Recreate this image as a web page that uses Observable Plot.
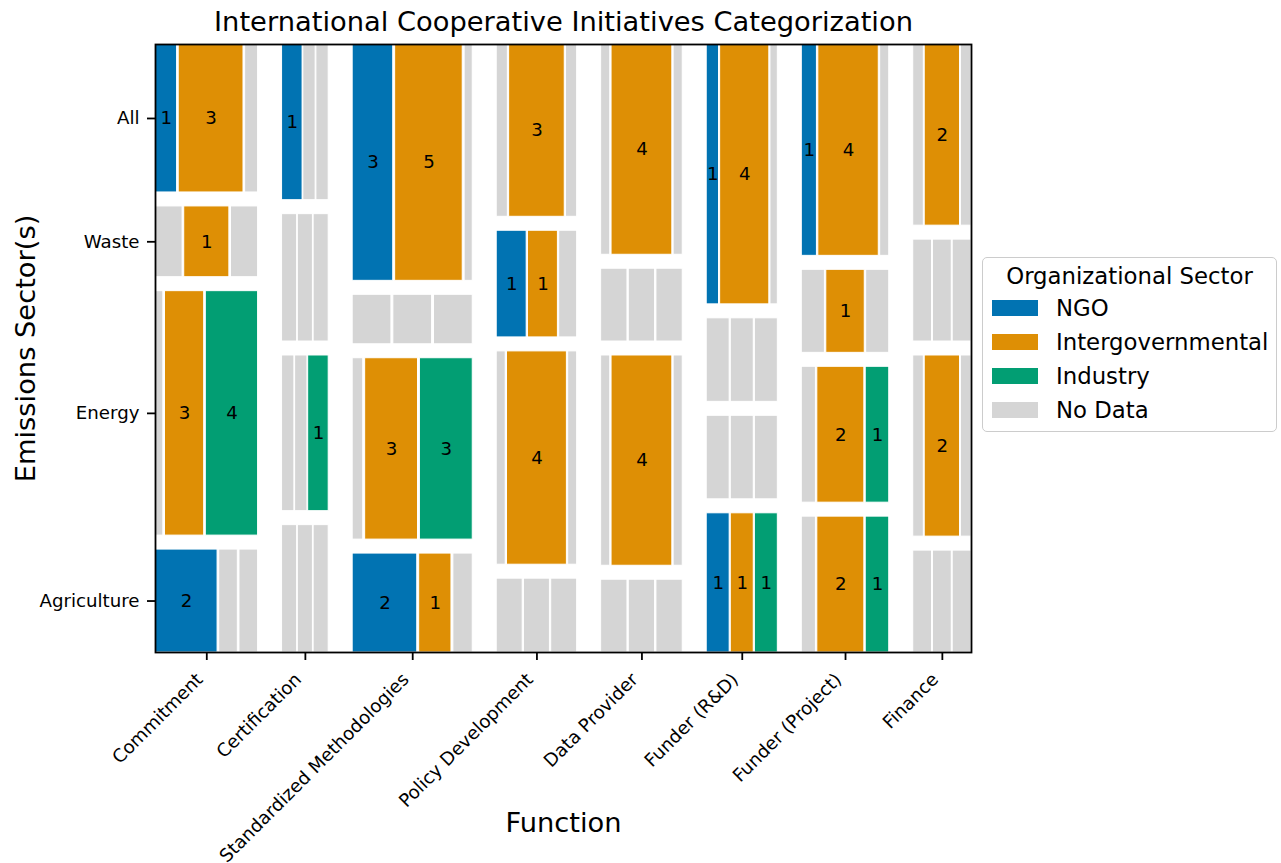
<!DOCTYPE html>
<html>
<head>
<meta charset="utf-8">
<script src="https://cdn.jsdelivr.net/npm/d3@7"></script>
<script src="https://cdn.jsdelivr.net/npm/@observablehq/plot@0.6"></script>
<style>
  body { margin: 0; background: #fff; font-family: "DejaVu Sans", sans-serif; }
  #wrap { position: relative; width: 1281px; height: 863px; }
  #legend { position: absolute; left: 982px; top: 257px; width: 295px; height: 175px; box-sizing: border-box;
    border: 1.6px solid #cccccc; border-radius: 5px; background: #fff; font-size: 22.8px; color: #000; }
  #legend .ttl { position: absolute; left: 0; width: 100%; text-align: center; line-height: 30px; white-space: nowrap; }
  #legend .sw { position: absolute; left: 9px; width: 46px; height: 16px; }
  #legend .lb { position: absolute; left: 73px; line-height: 30px; white-space: nowrap; }
</style>
</head>
<body>
<div id="wrap"></div>
<script>
// ---- Data ----
const functions = ["Commitment", "Certification", "Standardized Methodologies", "Policy Development",
  "Data Provider", "Funder (R&D)", "Funder (Project)", "Finance"];
const sectors = ["All", "Waste", "Energy", "Agriculture"];
const orgs = ["NGO", "Intergovernmental", "Industry"];
const noDataLabel = "No Data";
// counts [function][sector: All, Waste, Energy, Agriculture]
const ngoCounts = [
  [1, 0, 0, 2], [1, 0, 0, 0], [3, 0, 0, 2], [0, 1, 0, 0],
  [0, 0, 0, 0], [1, 0, 0, 1], [1, 0, 0, 0], [0, 0, 0, 0]
];
const igoCounts = [
  [3, 1, 3, 0], [0, 0, 0, 0], [5, 0, 3, 1], [3, 1, 4, 0],
  [4, 0, 4, 0], [4, 0, 0, 1], [4, 1, 2, 2], [2, 0, 2, 0]
];
const industryCounts = [
  [0, 0, 4, 0], [0, 0, 1, 0], [0, 0, 3, 0], [0, 0, 0, 0],
  [0, 0, 0, 0], [0, 0, 0, 1], [0, 0, 1, 1], [0, 0, 0, 0]
];
const noDataWeight = 0.6;
const colors = ["#0173b2", "#de8f05", "#029e73", "#d5d5d5"];

// ---- Mosaic layout (statsmodels-style splitting) ----
const G = 0.037;
const gaps = [G, G / 1.5, G / 2.25];
function split(start, length, weights, gap) {
  const total = d3.sum(weights);
  const ext = 1 + gap * (weights.length - 1);
  let acc = 0;
  return weights.map((w, i) => {
    const s = (acc / total + gap * i) / ext;
    acc += w;
    return [start + s * length, (w / total) / ext * length];
  });
}
const countTables = [ngoCounts, igoCounts, industryCounts];
const weight = c => c > 0 ? c : noDataWeight;
const cellW = (f, s) => countTables.map(t => weight(t[f][s]));
const rowW = f => sectors.map((_, s) => d3.sum(cellW(f, s)));
const colW = functions.map((_, f) => d3.sum(rowW(f)));

const tiles = [];
const colCenters = [];
let rowCenters = [];
const cols = split(0, 1, colW, gaps[0]);
cols.forEach(([cx, cw], f) => {
  colCenters.push(cx + cw / 2);
  const rows = split(0, 1, rowW(f), gaps[1]);
  if (f === 0) rowCenters = rows.map(([ry, rh]) => ry + rh / 2);
  rows.forEach(([ry, rh], s) => {
    const parts = split(cx, cw, cellW(f, s), gaps[2]);
    parts.forEach(([tx, tw], o) => {
      const count = countTables[o][f][s];
      tiles.push({
        func: functions[f], sector: sectors[s],
        org: count > 0 ? orgs[o] : noDataLabel,
        count, x1: tx, x2: tx + tw, y1: ry, y2: ry + rh
      });
    });
  });
});

const W = 1281, H = 863;
const chart = Plot.plot({
  width: W, height: H,
  marginLeft: 155, marginRight: 310, marginTop: 44, marginBottom: 211,
  style: { fontFamily: "DejaVu Sans", fontSize: "18.2px", color: "#000", background: "#fff" },
  x: { domain: [0, 1], axis: null },
  y: { domain: [0, 1], reverse: true, axis: null },
  color: { domain: [...orgs, noDataLabel], range: colors },
  marks: [
    Plot.rect(tiles, { x1: "x1", x2: "x2", y1: "y1", y2: "y2", fill: "org", stroke: "white", strokeWidth: 1 }),
    Plot.text(tiles.filter(d => d.count > 0), {
      x: d => (d.x1 + d.x2) / 2, y: d => (d.y1 + d.y2) / 2, text: d => String(d.count),
      fontSize: 18.2, fill: "#000"
    }),
    Plot.frame({ stroke: "#000", strokeWidth: 1.8 }),
    Plot.axisX(colCenters, { tickSize: 8, tickFormat: () => "", strokeWidth: 1.8, label: null }),
    Plot.axisY(rowCenters, { tickSize: 8, tickFormat: () => "", strokeWidth: 1.8, label: null }),
    Plot.text(functions, {
      x: (d, i) => colCenters[i], frameAnchor: "bottom", text: d => d,
      rotate: -45, textAnchor: "end", lineAnchor: "middle", dx: -7, dy: 24, fontSize: 18.2
    }),
    Plot.text(sectors, {
      y: (d, i) => rowCenters[i], frameAnchor: "left", text: d => d,
      textAnchor: "end", lineAnchor: "middle", dx: -16, fontSize: 18.2
    }),
    Plot.text(["International Cooperative Initiatives Categorization"], {
      frameAnchor: "top", text: d => d, textAnchor: "middle", lineAnchor: "middle", dy: -22, fontSize: 27.3
    }),
    Plot.text(["Function"], {
      frameAnchor: "bottom", text: d => d, textAnchor: "middle", lineAnchor: "middle", dy: 171, fontSize: 27.3
    }),
    Plot.text(["Emissions Sector(s)"], {
      frameAnchor: "left", text: d => d, rotate: -90, textAnchor: "middle", lineAnchor: "middle",
      dx: -129, fontSize: 27.3
    })
  ]
});
const wrap = document.getElementById("wrap");
wrap.appendChild(chart);

// ---- Legend ----
const legend = document.createElement("div");
legend.id = "legend";
const ttl = document.createElement("div");
ttl.className = "ttl";
ttl.style.top = "3px";
ttl.textContent = "Organizational Sector";
legend.appendChild(ttl);
[...orgs, noDataLabel].forEach((name, i) => {
  const c = 52 + 33.7 * i;
  const sw = document.createElement("div");
  sw.className = "sw";
  sw.style.top = (c - 8 - 1.6) + "px";
  sw.style.background = colors[i];
  const lb = document.createElement("div");
  lb.className = "lb";
  lb.style.top = (c - 15 - 1.6) + "px";
  lb.textContent = name;
  legend.appendChild(sw);
  legend.appendChild(lb);
});
wrap.appendChild(legend);
</script>
</body>
</html>
